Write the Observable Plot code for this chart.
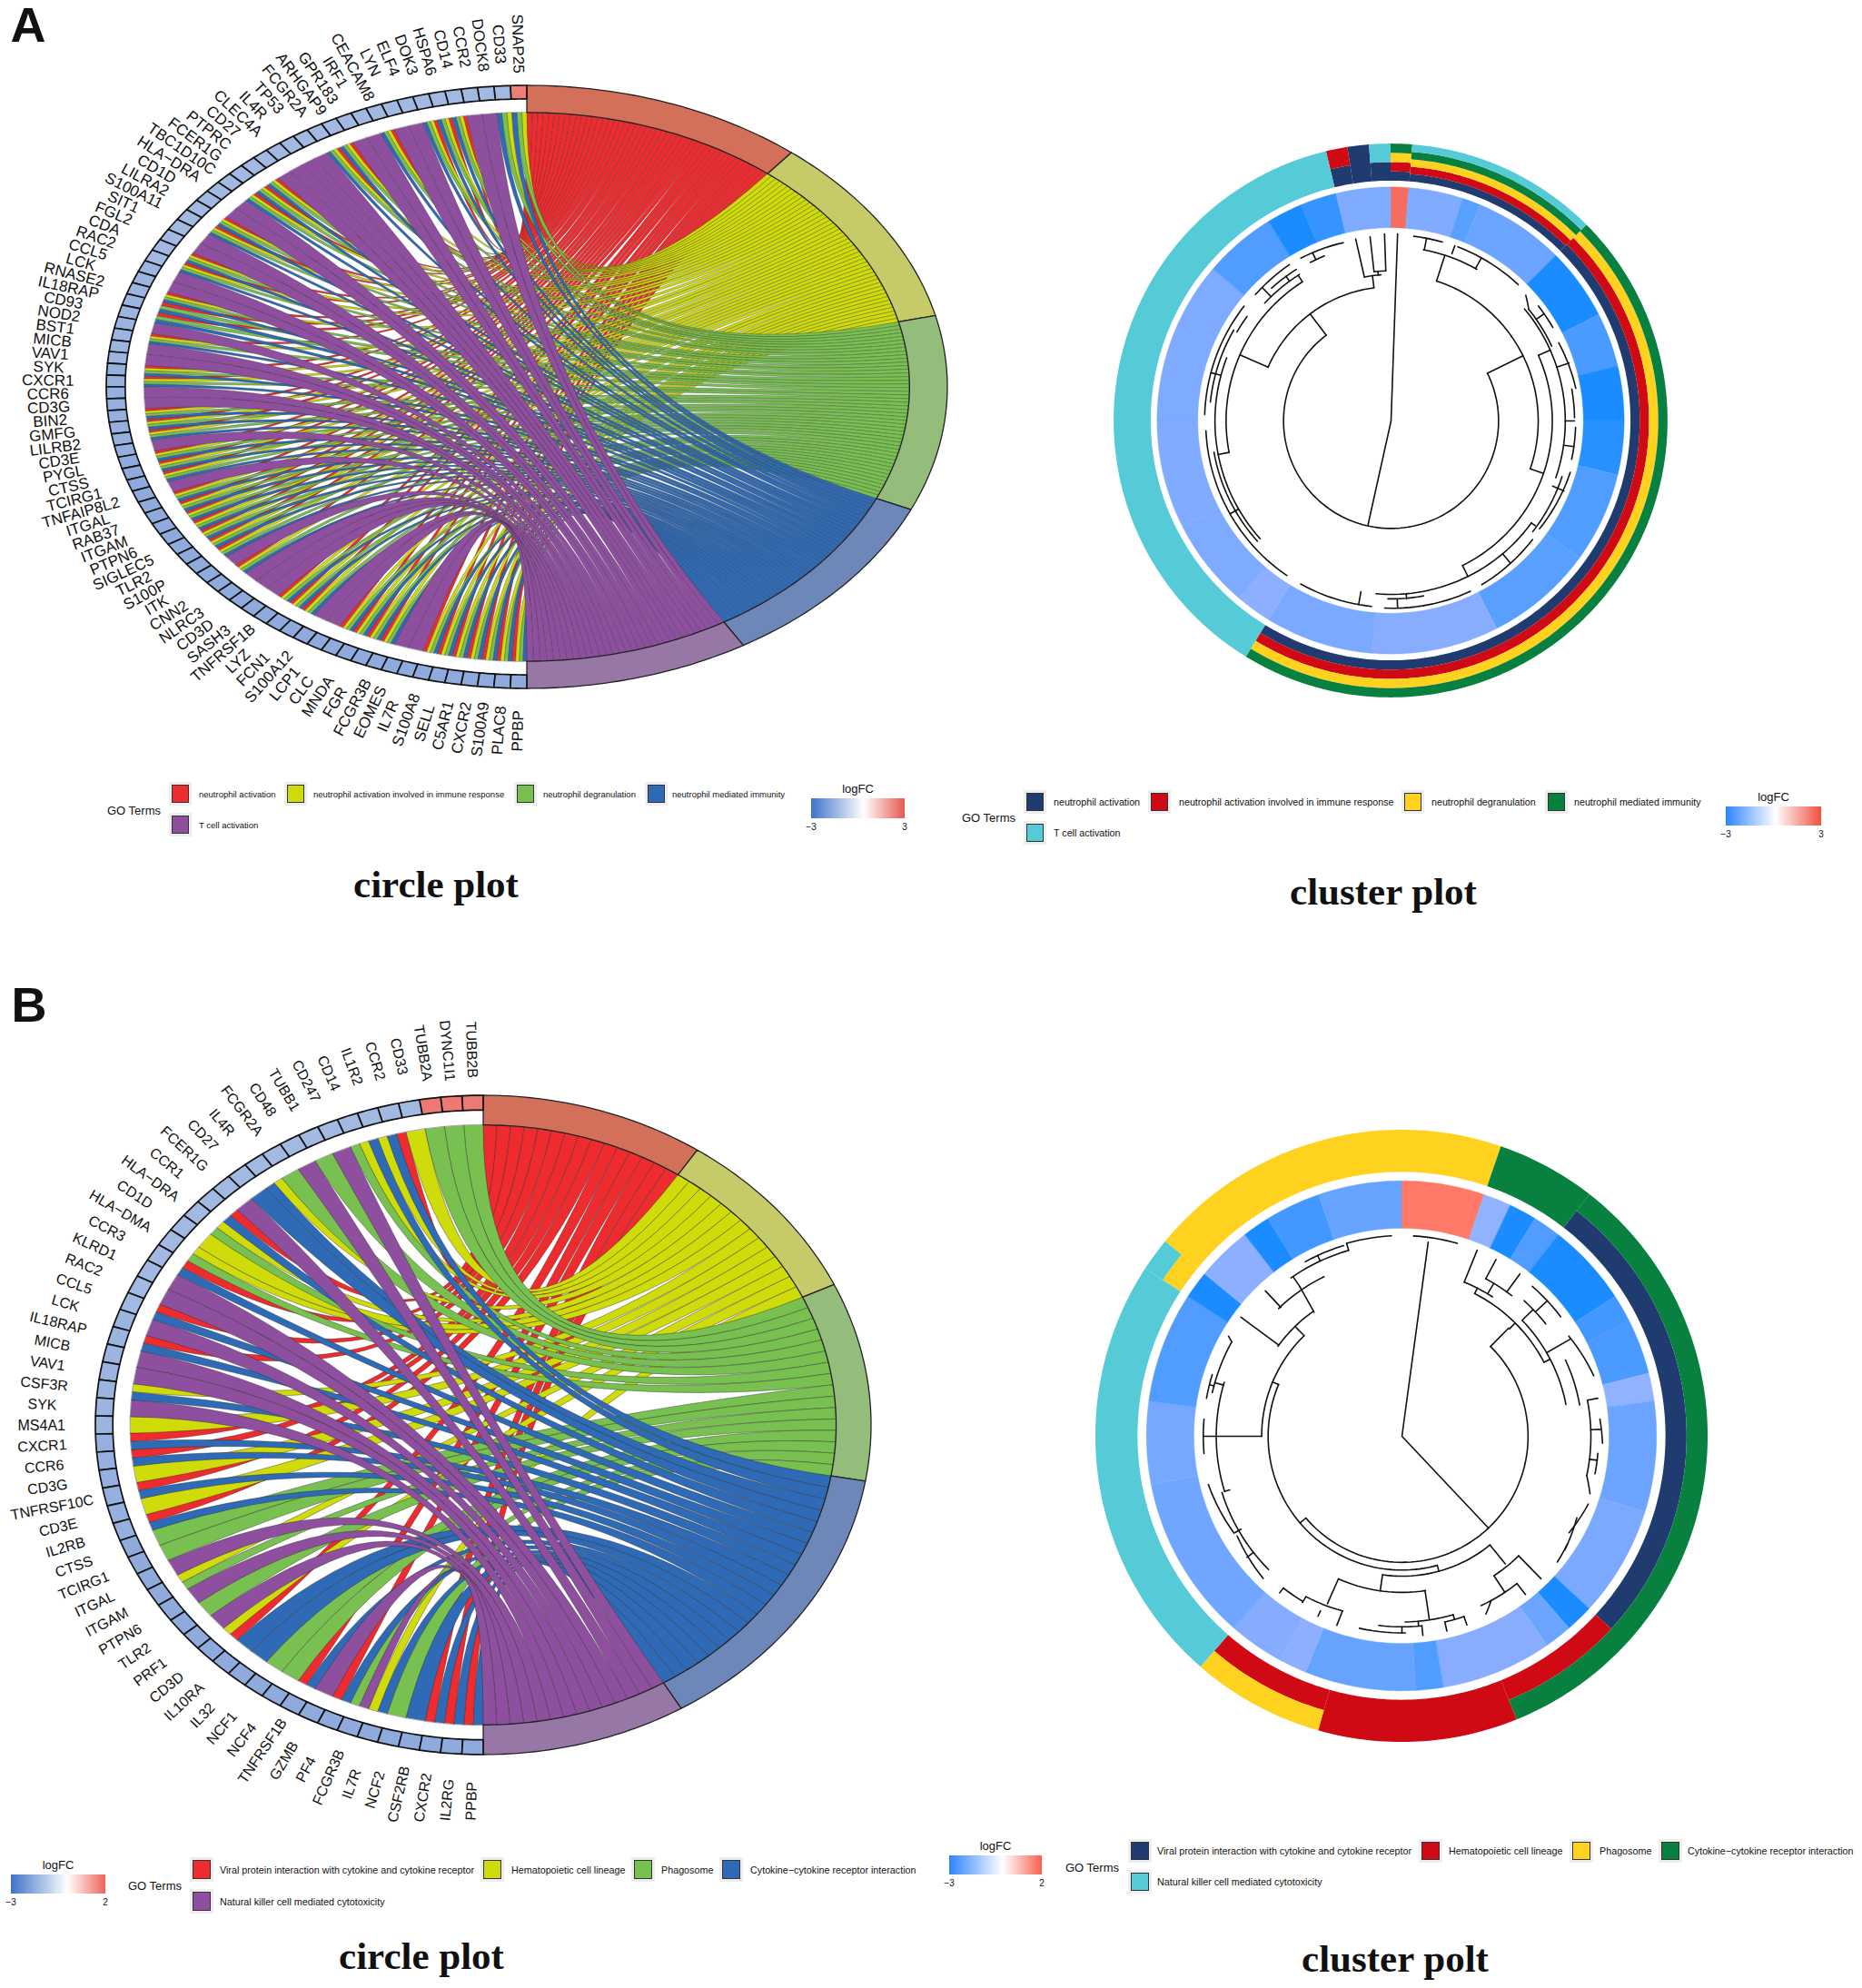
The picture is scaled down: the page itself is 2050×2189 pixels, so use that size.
<!DOCTYPE html>
<html><head><meta charset="utf-8">
<script src="https://cdn.jsdelivr.net/npm/d3@7"></script>
<script src="https://cdn.jsdelivr.net/npm/@observablehq/plot@0.6"></script>
<style>
html,body{margin:0;background:#fff}
#page{position:relative;width:2050px;height:2189px;overflow:hidden;font-family:"Liberation Sans",Arial,sans-serif;color:#111}
#page>*{position:absolute}
.t{white-space:nowrap;transform:translateY(-50%)}
.c{white-space:nowrap;transform:translate(-50%,-50%);line-height:1}
</style></head>
<body><div id="page"></div>
<script>
// ---------- Panel A: circle plot ----------
const aGenes=["SNAP25","CD33","DOCK8","CCR2","CD14","HSPA6","DOK3","ELF4","LYN","CEACAM8","IRF1","GPR183","ARHGAP9","FCGR2A","TP53","IL4R","CLEC4A","CD27","PTPRC","FCER1G","TBC1D10C","HLA−DRA","CD1D","LILRA2","S100A11","SIT1","FGL2","CDA","RAC2","CCL5","LCK","RNASE2","IL18RAP","CD93","NOD2","BST1","MICB","VAV1","SYK","CXCR1","CCR6","CD3G","BIN2","GMFG","LILRB2","CD3E","PYGL","CTSS","TCIRG1","TNFAIP8L2","ITGAL","RAB37","ITGAM","PTPN6","SIGLEC5","TLR2","S100P","ITK","CNN2","NLRC3","CD3D","SASH3","TNFRSF1B","LYZ","FCN1","S100A12","LCP1","CLC","MNDA","FGR","FCGR3B","EOMES","IL7R","S100A8","SELL","C5AR1","CXCR2","S100A9","PLAC8","PPBP"];
const aMembers=["ygb","ygb","p","p","rygb","rygb","rygb","p","p","rygb","p","p","rygb","rygb","p","p","p","p","rygb","rygb","rygb","p","p","rygb","rygb","p","p","rygb","rygb","p","p","rygb","rgb","rgb","p","rygb","p","p","rygb","rygb","p","p","rygb","rygb","rygb","p","rygb","rygb","rygb","p","rygb","rygb","rygb","rygb","rygb","rygb","rygb","p","rygb","p","p","p","rygb","rygb","rygb","p","p","rygb","rygb","rygb","rygb","p","p","rygb","rygb","rygb","rygb","rygb","rygb","rygb"];
const aLogFC=[2.3,-1.5,-1.5,-1.5,-1.5,-1.5,-1.5,-1.5,-1.5,-1.5,-1.5,-1.5,-1.5,-1.5,-1.5,-1.5,-1.5,-1.5,-1.5,-1.5,-1.5,-1.5,-1.5,-1.5,-1.5,-1.5,-1.5,-1.5,-1.5,-1.6,-1.6,-1.6,-1.6,-1.6,-1.6,-1.6,-1.6,-1.6,-1.7,-1.7,-1.7,-1.7,-1.7,-1.7,-1.7,-1.7,-1.8,-1.8,-1.8,-1.8,-1.8,-1.8,-1.8,-1.8,-1.8,-1.8,-1.8,-1.8,-1.8,-1.8,-1.8,-1.8,-1.8,-1.8,-1.8,-1.8,-1.8,-1.8,-1.8,-1.8,-1.8,-1.8,-1.8,-1.8,-1.8,-1.8,-1.8,-1.8,-1.8,-1.8];
const aTermEdges=[0,39,76.3,114,149,180];
// ---------- Panel B: circle plot ----------
const bGenes=["TUBB2B","DYNC1I1","TUBB2A","CD33","CCR2","IL1R2","CD14","CD247","TUBB1","CD48","FCGR2A","IL4R","CD27","FCER1G","CCR1","HLA−DRA","CD1D","HLA−DMA","CCR3","KLRD1","RAC2","CCL5","LCK","IL18RAP","MICB","VAV1","CSF3R","SYK","MS4A1","CXCR1","CCR6","CD3G","TNFRSF10C","CD3E","IL2RB","CTSS","TCIRG1","ITGAL","ITGAM","PTPN6","TLR2","PRF1","CD3D","IL10RA","IL32","NCF1","NCF4","TNFRSF1B","GZMB","PF4","FCGR3B","IL7R","NCF2","CSF2RB","CXCR2","IL2RG","PPBP"];
const bMembers=["g","g","g","y","rb","yb","yg","p","g","p","g","yb","b","p","rb","yg","y","yg","rb","p","p","rb","p","rb","p","p","yb","p","y","rb","rb","y","rb","y","rb","g","g","p","yg","p","g","p","yr","b","b","g","g","rb","p","rb","gp","yb","g","b","rb","rb","rb"];
const bLogFC=[1.6,1.6,1.6,-1.5,-1.5,-1.5,-1.5,-1.5,-1.5,-1.5,-1.5,-1.5,-1.5,-1.5,-1.5,-1.5,-1.5,-1.5,-1.5,-1.5,-1.5,-1.5,-1.6,-1.6,-1.6,-1.6,-1.6,-1.6,-1.6,-1.7,-1.7,-1.7,-1.7,-1.7,-1.7,-1.8,-1.8,-1.8,-1.8,-1.8,-1.8,-1.8,-1.8,-1.8,-1.8,-1.8,-1.8,-1.8,-1.8,-1.8,-1.8,-1.8,-1.8,-1.8,-1.8,-1.8,-1.8];
const bTermEdges=[0,33.5,64.8,99.8,149.3,180];
// term colours (ribbon, sector) for the circle plots
const chordKeys=["r","y","g","b","p"];
const chordRibbon=["#ee2b2e","#d0dc0a","#78c151","#2f6ab6","#8e4f9e"];
const chordSector=["#d2705a","#c6ca68","#94bd7c","#6d87b8","#9777a6"];
// ---------- Cluster plots ----------
const clusterKeys=["n","r","y","g","t"];
const clusterColors=["#1f3b70","#cf0a14","#ffd21f","#08803f","#56cbd8"];
const aStacks=[["nryg",1],["nrygt",9],["nryg",37],["t",30],["nr",1],["n",1],["nt",1]];
const bStacks=[["y",3],["g",3],["ng",15],["rg",4],["r",6],["ry",4],["t",13],["yt",1],["y",8]];
const aHeat=[2.4,-1.5,-1.5,-1.5,-2.1,-1.8,-1.8,-1.8,-1.8,-1.8,-3,-3,-3,-3,-2.3,-2.3,-2.3,-3,-3,-3,-2.8,-2.8,-2.8,-2.2,-2.2,-2.2,-2.2,-2.2,-2.1,-2.1,-2.1,-2.1,-2.1,-2.1,-1.4,-1.4,-1.4,-1.4,-1.4,-1.4,-1.4,-1.6,-1.6,-1.6,-1.6,-1.6,-1.6,-1.35,-1.35,-1.55,-1.55,-1.55,-1.55,-1.55,-1.5,-1.5,-1.5,-1.5,-1.5,-1.5,-1.55,-1.55,-1.55,-1.55,-1.55,-1.55,-1.55,-1.55,-1.55,-2.2,-2.2,-2.2,-2.2,-3,-3,-2.6,-2.6,-1.55,-1.55,-1.55];
const bHeat=[1.8,1.8,1.8,-1.3,-3,-2.2,-3,-3,-3,-2.4,-2.3,-2.3,-1.3,-1.8,-1.8,-1.8,-1.8,-1.6,-1.6,-1.6,-1.6,-3,-1.8,-1.4,-1.4,-1.4,-1.4,-2.2,-1.9,-1.9,-1.9,-1.9,-1.35,-1.45,-1.45,-1.75,-1.75,-1.75,-1.75,-1.75,-1.75,-1.65,-1.65,-1.65,-2.2,-2.2,-2.2,-2.2,-3,-1.35,-1.35,-3,-2.4,-2.4,-1.9,-1.9,-1.9];
// dendrogram branches as [height, angle] polylines
const aTree=[
[[505,2],[0,2],[0,12],[0,192.5],[288,192.5]],
[[290,63.7],[290,322.9]],
[[290,63.7],[397,63.7]],[[397,18],[397,109]],[[397,18],[470,18]],[[397,109],[435,109]],
[[435,66],[435,153.7]],[[435,66],[470,66]],[[435,153.7],[468,153.7]],
[[470,10.7],[470,29.5]],[[502,7],[502,16]],[[470,11],[502,11]],[[480,20],[503,20]],[[503,21],[503,43]],[[470,29],[503,29]],
[[497,47],[478,51]],[[504,52],[504,60]],[[478,51],[478,65]],[[478,55],[504,55]],
[[499,65],[506,80]],[[470,72],[505,72]],[[470,50],[470,109]],[[495,80],[495,89]],[[470,90],[495,90]],[[498,92],[498,102]],[[470,98],[498,98]],
[[503,106],[495,126]],[[485,108],[485,128]],[[470,112],[503,112]],[[498,130],[505,151]],[[468,126],[468,185]],[[468,126],[481,126]],[[468,140],[500,140]],
[[507,155],[505,182]],[[480,169.5],[480,181]],[[468,175],[482,175]],[[482,178],[505,178]],
[[503,186],[503,209]],[[468,190],[503,190]],[[503,214],[500,267]],[[485,228],[485,260]],[[475,228],[475,291]],[[445,259],[475,259]],[[475,240],[500,240]],
[[503,272],[503,308]],[[490,276],[490,300]],[[475,285],[503,285]],[[480,300],[480,306]],
[[362,293.6],[362,352.7]],[[290,322.9],[362,322.9]],[[362,293.6],[445,293.6]],[[445,259],[445,327.5]],[[445,327.5],[466,327.5]],
[[466,313],[466,328]],[[500,313],[503,327]],[[466,316],[500,316]],[[466,324],[482,324]],[[482,318],[482,328]],
[[502,331],[498,345]],[[480,333],[480,338]],[[480,335],[500,335]],
[[362,352.7],[395,352.7]],[[395,349.5],[395,356]],[[395,349.5],[500,349]],[[395,355],[405,355]],[[405,353.5],[405,358]],[[405,353.5],[500,353.5]],[[405,358],[505,358]]
];
const bTree=[
[[483,7.7],[0,7.7],[0,136.7],[311,136.7]],[[311,44.6],[311,229.6]],[[311,44.6],[375,44.6]],[[395,27],[395,62.5]],[[375,45],[395,45]],[[395,62.5],[410,62.5]],
[[412,46],[412,79]],[[395,27],[410,27]],[[410,22],[410,33]],[[410,22],[495,22]],[[410,31],[440,31]],[[440,28],[440,38]],[[440,28],[494,28]],[[440,36],[495,36]],
[[412,46],[450,46]],[[450,42],[450,52]],[[490,41],[490,53]],[[450,47],[490,47]],[[412,60],[480,60]],[[480,59],[496,72.5]],[[445,65],[445,80]],[[466,79],[492,79]],[[466,79],[466,102]],
[[490,85],[495,92]],[[466,88],[490,88]],[[485,95],[485,101]],[[466,97],[485,97]],[[466,102],[485,107]],[[489,110],[476,120]],[[487,123],[493,129]],[[476,115],[490,125]],
[[311,178],[311,179]],[[311,229.6],[330,229.6]],[[330,164.7],[330,292.8]],[[330,164.7],[345,164.7]],[[345,141],[345,188]],[[345,141],[366,141]],[[366,141],[405,141]],
[[412,135.7],[412,146.6]],[[412,135.7],[491,135.7]],[[412,146.6],[461,146.6]],[[461,142],[461,155]],[[461,142],[495,142]],[[461,151.5],[485,154.7]],
[[345,188],[370,188]],[[385,171.3],[385,204]],[[370,188],[385,188]],[[385,204],[452,204]],[[455,198.8],[461,210.9]],[[455,198.8],[493,199]],[[461,210.9],[478,210.9]],[[475,211],[475,218]],[[475,205],[490,205]],[[475,218],[490,218]],
[[385,171.5],[456,171.5]],[[458,164],[458,179]],[[458,164],[470,164]],[[470,161],[470,167]],[[470,161],[492,161]],[[470,167],[493,167]],[[470,174],[470,187]],[[458,175],[470,175]],[[470,174],[494,174]],[[485,179],[485,192.5]],[[470,180],[485,180]],
[[330,292.8],[346,292.8]],[[346,270],[346,315.8]],[[346,270],[455,270]],[[458,252.7],[458,286.9]],[[445,252.7],[458,252.7]],
[[465,225],[465,252.7]],[[458,240],[475,240]],[[490,224.3],[475,238.8]],[[492,256],[478,240]],[[465,232],[485,232]],
[[490,265],[490,275]],[[458,270],[490,270]],[[480,283],[480,299]],[[458,286],[480,286]],[[491,281],[492,288]],[[480,285],[491,285]],[[480,299],[494,300]],
[[346,315.8],[368,315.8]],[[378,306],[378,324.7]],[[368,315.8],[378,315.8]],[[378,306.5],[494,306.5]],[[375,324.7],[447,325.7]],[[436,316.8],[492,316.8]],[[438,316],[438,334]],
[[477,325],[477,344]],[[447,325.7],[477,325.7]],[[492,331],[492,343]],[[477,335],[492,335]],[[495,344],[495,357]],[[477,344],[495,344]],
[[495,3.3],[495,16]]
];
// legend and title text
const aTermsText=["neutrophil activation","neutrophil activation involved in immune response","neutrophil degranulation","neutrophil mediated immunity","T cell activation"];
const bTermsText=["Viral protein interaction with cytokine and cytokine receptor","Hematopoietic cell lineage","Phagosome","Cytokine−cytokine receptor interaction","Natural killer cell mediated cytotoxicity"];

const page=document.getElementById("page");
const rad=d=>d*Math.PI/180;

function chord(genes,members,logFC,edges,L){
  const n=genes.length,c=180/n,R=0.91,steps=26;
  const marks=[];
  chordKeys.forEach((k,ki)=>{
    const list=genes.map((g,i)=>i).filter(i=>members[i].includes(k));
    const t0=edges[ki],w=(edges[ki+1]-t0)/list.length,rows=[];
    list.forEach((g,j)=>{
      const m=members[g],s=m.indexOf(k);
      const f0=(g+s/m.length)*c,f1=(g+(s+1)/m.length)*c,q0=t0+j*w,q1=t0+(j+1)*w;
      for(let i=0;i<=steps;i++){
        const t=i/steps,a=(1-t)*(1-t),b=t*t;
        rows.push({id:g,
          x1:(-Math.sin(rad(f0))*a+Math.sin(rad(q0))*b)*R,y1:(Math.cos(rad(f0))*a+Math.cos(rad(q0))*b)*R,
          x2:(-Math.sin(rad(f1))*a+Math.sin(rad(q1))*b)*R,y2:(Math.cos(rad(f1))*a+Math.cos(rad(q1))*b)*R});
      }
    });
    marks.push(Plot.area(rows,{x1:"x1",y1:"y1",x2:"x2",y2:"y2",z:"id",fill:chordRibbon[ki],stroke:"#2a2a2a",strokeOpacity:.6,strokeWidth:L.ribbonStroke}));
  });
  // term sectors
  chordKeys.forEach((k,ki)=>{
    const rows=[];
    for(let i=0;i<=40;i++){const q=edges[ki]+(edges[ki+1]-edges[ki])*i/40;
      rows.push({x1:Math.sin(rad(q)),y1:Math.cos(rad(q)),x2:Math.sin(rad(q))*R,y2:Math.cos(rad(q))*R});}
    marks.push(Plot.area(rows,{x1:"x1",y1:"y1",x2:"x2",y2:"y2",fill:chordSector[ki],stroke:"#222",strokeWidth:1.3}));
  });
  // gene cells
  const cells=[];
  genes.forEach((g,i)=>{for(let s=0;s<=4;s++){const f=(i+s/4)*c;
    cells.push({g:i,v:logFC[i],x1:-Math.sin(rad(f)),y1:Math.cos(rad(f)),x2:-Math.sin(rad(f))*.955,y2:Math.cos(rad(f))*.955});}});
  marks.push(Plot.area(cells,{x1:"x1",y1:"y1",x2:"x2",y2:"y2",z:"g",fill:"v",stroke:"#111",strokeWidth:1.7}));
  // gene labels
  const k=L.rx/L.ry;
  const labels=genes.map((g,i)=>{const f=(i+.5)*c;
    return {g,x:-Math.sin(rad(f))*1.14,y:Math.cos(rad(f))*1.14,rot:Math.atan2(Math.cos(rad(f)),Math.sin(rad(f))*k)*180/Math.PI};});
  marks.push(Plot.text(labels,{x:"x",y:"y",text:"g",rotate:"rot",fontSize:L.font,textAnchor:"middle",lineAnchor:"middle",fill:"#111",fontFamily:"Liberation Sans"}));
  const svg=Plot.plot({width:L.W,height:L.H,margin:0,axis:null,
    x:{domain:[(0-L.cx)/L.rx,(L.W-L.cx)/L.rx],axis:null},
    y:{domain:[(L.cy-L.H)/L.ry,L.cy/L.ry],axis:null},
    color:{type:"linear",domain:[-3,0,L.max],range:["#4472c4","#ffffff",L.hot],interpolate:"rgb"},
    marks});
  svg.style.left=L.left+"px";svg.style.top=L.top+"px";svg.style.background="transparent";
  page.appendChild(svg);
}

function cluster(stacks,heat,tree,L){
  const cells=stacks.flatMap(([s,m])=>Array(m).fill(s));
  const n=cells.length,c=360/n,marks=[];
  const arcRows=(id,i0,i1,r0,r1,extra)=>{const a=[],m=(i1-i0)*6;for(let s=0;s<=m;s++){const q=(i0+(i1-i0)*s/m)*c;
    a.push({id,x1:Math.sin(rad(q))*r1,y1:Math.cos(rad(q))*r1,x2:Math.sin(rad(q))*r0,y2:Math.cos(rad(q))*r0,...extra});}return a;};
  // heat sector: runs of equal value are one wedge
  const heatRows=[];let i0=0;
  heat.forEach((v,i)=>{if(i===heat.length-1||heat[i+1]!==v){heatRows.push(...arcRows(i0,i0,i+1,L.h0,L.h1,{v}));i0=i+1;}});
  marks.push(Plot.area(heatRows,{x1:"x1",y1:"y1",x2:"x2",y2:"y2",z:"id",fill:"v",stroke:"v",strokeWidth:.4}));
  // term stacks: runs with the same slot are one band
  clusterKeys.forEach((k,ki)=>{
    const rows=[],key=i=>{const s=cells[i],p=s.indexOf(k);return p<0?"":p+"/"+s.length;};
    let start=0;
    cells.forEach((s,i)=>{
      if(i===n-1||key(i+1)!==key(i)){
        if(key(i)){const p=s.indexOf(k),h=(L.r1-L.r0)/s.length;
          rows.push(...arcRows(start,start,i+1,L.r0+p*h,L.r0+(p+1)*h,{}));}
        start=i+1;
      }
    });
    marks.push(Plot.area(rows,{x1:"x1",y1:"y1",x2:"x2",y2:"y2",z:"id",fill:clusterColors[ki]}));
  });
  // dendrogram
  const lines=[];
  tree.forEach((path,id)=>{
    for(let j=0;j<path.length-1;j++){const [r0,q0]=path[j],[r1,q1]=path[j+1],m=Math.max(1,Math.ceil(Math.abs(q1-q0)/2));
      for(let i=0;i<=m;i++){const r=r0+(r1-r0)*i/m,q=q0+(q1-q0)*i/m;
        lines.push({id,x:Math.sin(rad(q))*r,y:Math.cos(rad(q))*r});}
    }
  });
  marks.push(Plot.line(lines,{x:"x",y:"y",z:"id",stroke:"#111",strokeWidth:1.6,strokeLinejoin:"miter"}));
  const svg=Plot.plot({width:L.S,height:L.S,margin:0,axis:null,
    x:{domain:[-784,784],axis:null},y:{domain:[-784,784],axis:null},
    color:{type:"linear",domain:[-3,-1.4,0,L.max],range:["#1a8cff","#88adff","#ffffff",L.hot],interpolate:"rgb"},
    marks});
  svg.style.left=L.left+"px";svg.style.top=L.top+"px";svg.style.background="transparent";
  page.appendChild(svg);
}

chord(aGenes,aMembers,aLogFC,aTermEdges,{W:1060,H:860,left:0,top:0,cx:580,cy:426,rx:463,ry:332,font:17,max:3,hot:"#e8584f",ribbonStroke:.55});
chord(bGenes,bMembers,bLogFC,bTermEdges,{W:1060,H:910,left:0,top:1110,cx:532,cy:459,rx:427,ry:363,font:16,max:2,hot:"#e8584f",ribbonStroke:.7});
cluster(aStacks,aHeat,aTree,{S:640,left:1211,top:143,h0:520,h1:630,r0:647,r1:747,max:3,hot:"#f2483a"});
cluster(bStacks,bHeat,bTree,{S:700,left:1193,top:1231,h0:512,h1:629,r0:651,r1:755,max:2,hot:"#ff6a55"});

// legends, titles
function txt(s,x,y,size,cls,extra){const e=document.createElement("div");e.className=cls||"t";e.textContent=s;
  e.style.left=x+"px";e.style.top=y+"px";e.style.fontSize=size+"px";if(extra)Object.assign(e.style,extra);page.appendChild(e);return e;}
function swatch(x,y,w,h,color){const e=document.createElement("div");
  Object.assign(e.style,{left:x+"px",top:y+"px",width:(w-2)+"px",height:(h-2)+"px",background:color,border:"1px solid #333",boxShadow:"0 0 0 3px #eeeeee"});page.appendChild(e);}
function legend(texts,colors,L){
  txt("GO Terms",L.go[0],L.go[1],13);
  L.items.forEach(([sx,sy,tx],i)=>{swatch(sx,sy,L.sw[0],L.sw[1],colors[i]);txt(texts[i],tx,sy+L.sw[1]/2,L.font);});
  const [x0,x1,y0,y1]=L.bar;
  const b=document.createElement("div");
  Object.assign(b.style,{left:x0+"px",top:y0+"px",width:(x1-x0)+"px",height:(y1-y0)+"px",background:`linear-gradient(90deg,${L.grad})`});page.appendChild(b);
  txt("logFC",(x0+x1)/2,y0-11,13,"c");
  txt("−3",x0,y1+10,10,"c");txt(L.hi,x1,y1+10,10,"c");
}
const bold={fontFamily:'"Liberation Serif",serif',fontWeight:"bold"};
legend(aTermsText,chordRibbon,{go:[118,892],sw:[19,20],font:9.5,items:[[189,864,219],[316,864,345],[569,864,598],[713,864,740],[189,898,219]],bar:[893,996,879,901],grad:"#3f73c8,#ffffff 56%,#e8584f",hi:"3"});
legend(aTermsText,clusterColors,{go:[1059,900],sw:[19,20],font:10.7,items:[[1130,873,1160],[1267,873,1298],[1546,873,1576],[1704,873,1733],[1130,907,1160]],bar:[1900,2005,888,909],grad:"#2f83ff,#ffffff 52%,#f0503f",hi:"3"});
legend(bTermsText,chordRibbon,{go:[141,2076],sw:[20,21],font:10.75,items:[[212,2048,242],[532,2048,563],[698,2048,728],[795,2048,826],[212,2083,242]],bar:[12,116,2064,2085],grad:"#3f73c8,#ffffff 60%,#f0645a",hi:"2"});
legend(bTermsText,clusterColors,{go:[1173,2056],sw:[20,20],font:10.75,items:[[1245,2028,1274],[1565,2028,1595],[1731,2028,1761],[1829,2028,1858],[1245,2062,1274]],bar:[1045,1147,2043,2064],grad:"#2f83ff,#ffffff 58%,#f8604e",hi:"2"});
txt("circle plot",480,973,43,"c",bold);
txt("cluster plot",1523,981,43,"c",bold);
txt("circle plot",464,2153,43,"c",bold);
txt("cluster polt",1536,2156,43,"c",bold);
txt("A",31,27,54,"c",{fontWeight:"bold"});
txt("B",32,1106,54,"c",{fontWeight:"bold"});
</script></body></html>
